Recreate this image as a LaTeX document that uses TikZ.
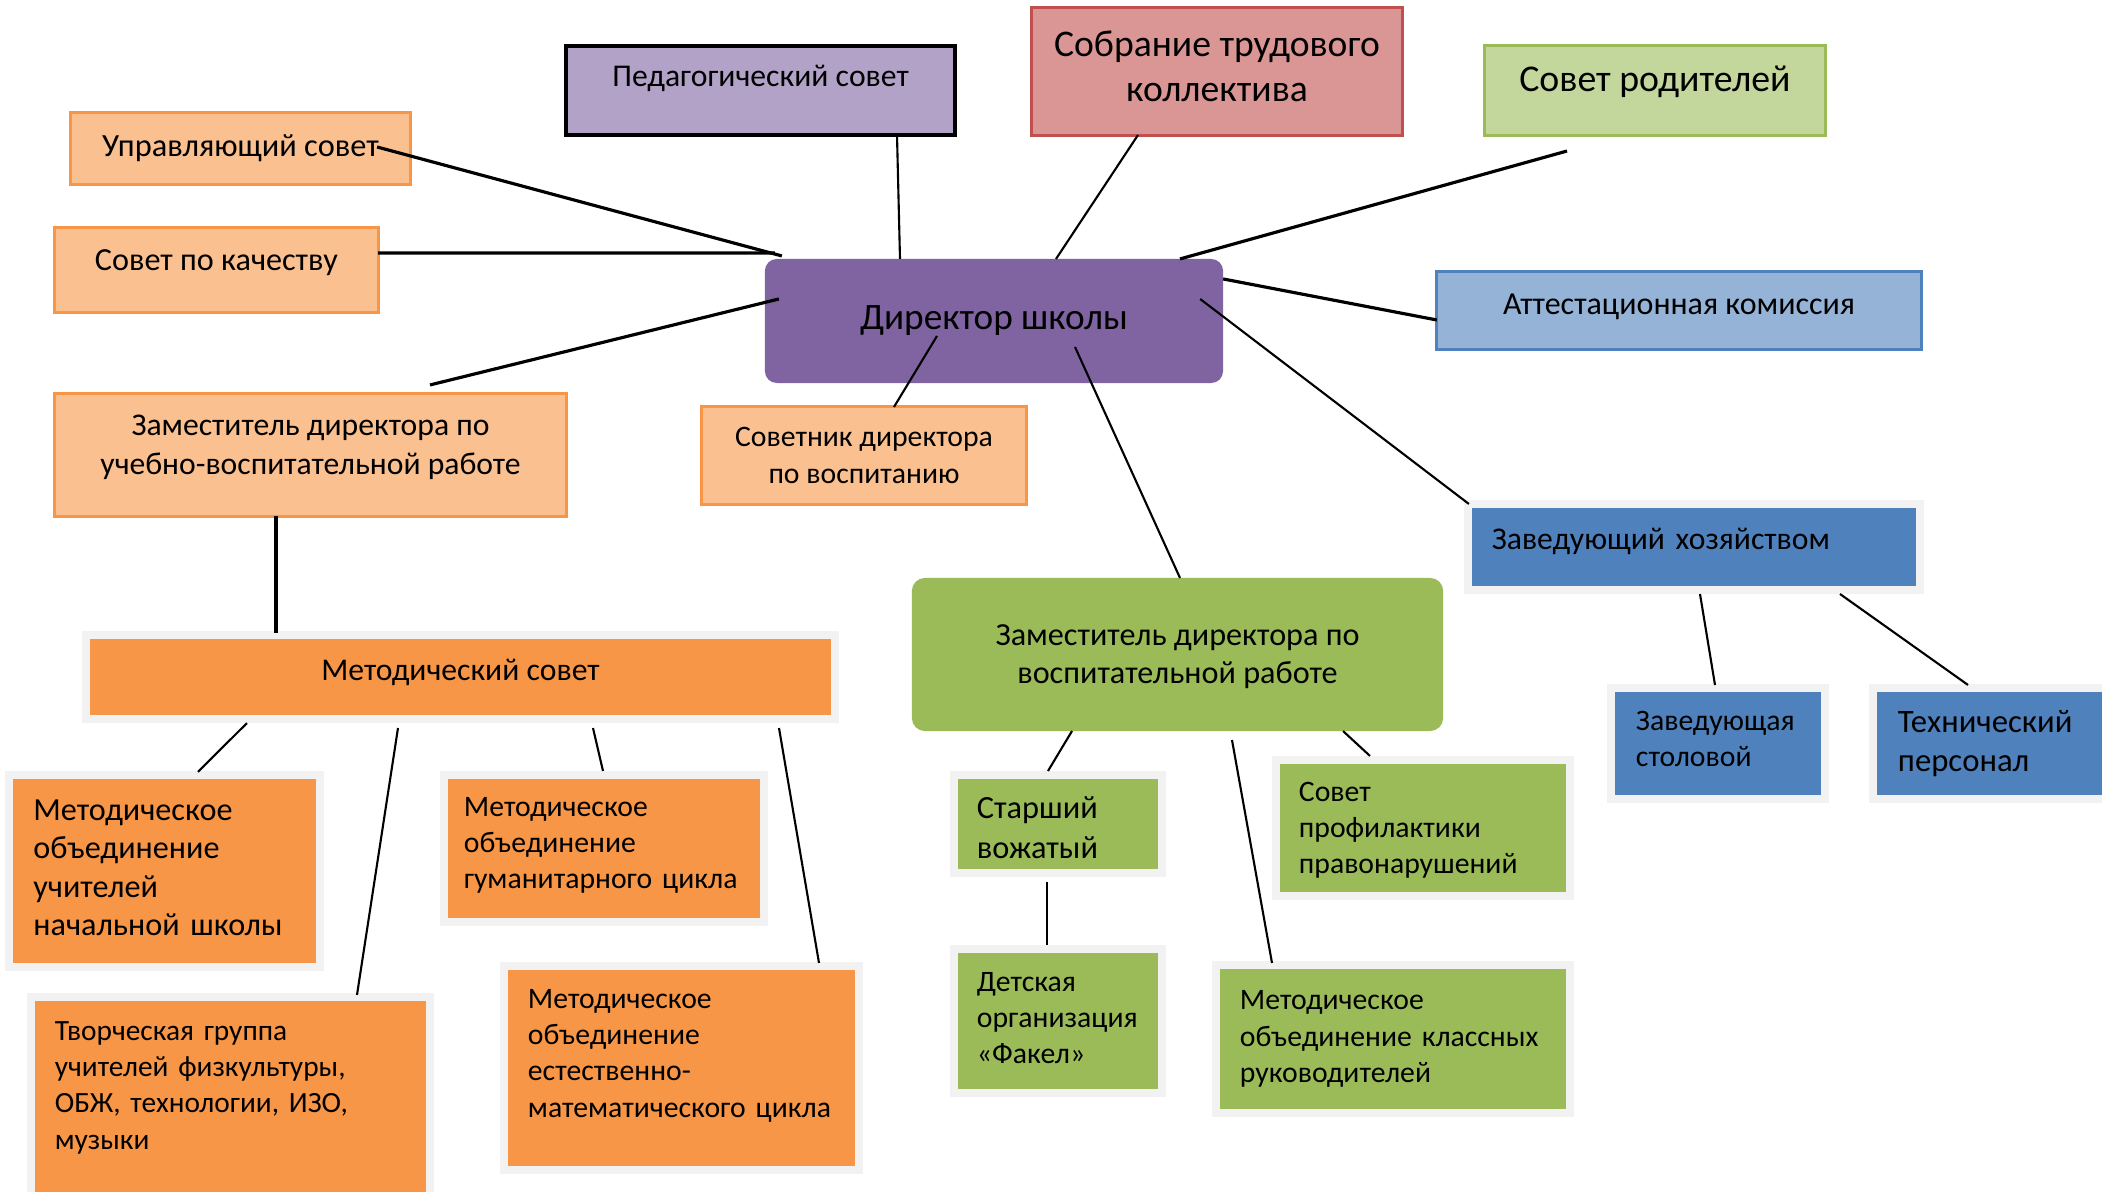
\documentclass[tikz,border=0pt]{standalone}
\usepackage{fontspec}
\setmainfont{Carlito}
\usepackage{xcolor}
\definecolor{orL}{HTML}{FAC090}
\definecolor{orD}{HTML}{F79646}
\definecolor{vio}{HTML}{8064A2}
\definecolor{lav}{HTML}{B2A2C7}
\definecolor{rosL}{HTML}{D99694}
\definecolor{rosD}{HTML}{C0504D}
\definecolor{grL}{HTML}{C3D69B}
\definecolor{grD}{HTML}{9BBB59}
\definecolor{blL}{HTML}{95B3D7}
\definecolor{blD}{HTML}{4F81BD}
\definecolor{frm}{HTML}{F2F2F2}
\tikzstyle{box}=[rectangle, inner sep=0pt, outer sep=0pt, align=center, font=\fontsize{9}{10.3}\selectfont]
\tikzstyle{small}=[font=\fontsize{8.45}{10.3}\selectfont]
\tikzstyle{lite}=[box, fill=orL, draw=orD, line width=0.03cm]
\tikzstyle{framed}=[box, draw=frm, line width=0.08cm, align=left]
\tikzstyle{lnk}=[line width=0.6pt]
\tikzstyle{lnkb}=[line width=0.9pt]

\begin{document}
\begin{tikzpicture}[x=0.01cm, y=-0.01cm]
\fill[white] (0,0) rectangle (2102,1192);
\useasboundingbox (0,0) rectangle (2102,1192);

\node[lite, minimum width=3.39cm, minimum height=0.71cm, font=\fontsize{9.2}{10.3}\selectfont] (upr) at (240.5,148.5) {Управляющий совет};
\node[lite, minimum width=3.23cm, minimum height=0.84cm, text depth=0.19cm, font=\fontsize{9.15}{10.3}\selectfont] (kach) at (216.5,270) {Совет по качеству};
\node[box, fill=lav, draw=black, line width=0.035cm, minimum width=3.89cm, minimum height=0.89cm, text depth=0.29cm] (ped) at (760.5,90.5) {Педагогический совет};
\node[box, fill=rosL, draw=rosD, line width=0.03cm, minimum width=3.7cm, minimum height=1.27cm, text depth=0.11cm, font=\fontsize{10.7}{12.9}\selectfont] (sobr) at (1217,71.5) {Собрание трудового\\коллектива};
\node[box, fill=grL, draw=grD, line width=0.03cm, minimum width=3.4cm, minimum height=0.89cm, text depth=0.23cm, font=\fontsize{10.75}{13}\selectfont] (rod) at (1655,90.5) {Совет родителей};
\node[box, fill=vio, rounded corners=0.12cm, minimum width=4.58cm, minimum height=1.24cm, font=\fontsize{10.6}{13}\selectfont] (dir) at (994,321) {Директор школы};
\node[box, fill=blL, draw=blD, line width=0.03cm, minimum width=4.84cm, minimum height=0.77cm, text depth=0.13cm, font=\fontsize{9.1}{10.3}\selectfont] (att) at (1679,310.5) {Аттестационная комиссия};
\node[lite, minimum width=5.11cm, minimum height=1.22cm, text depth=0.2cm, font=\fontsize{9}{11.1}\selectfont] (zuvr) at (310.5,455) {Заместитель директора по\\учебно-воспитательной работе};
\node[lite, small, minimum width=3.24cm, minimum height=0.97cm] (sovd) at (864,455.5) {Советник директора\\по воспитанию};
\node[box, fill=grD, rounded corners=0.13cm, minimum width=5.31cm, minimum height=1.53cm, text depth=0.01cm, font=\fontsize{9.15}{10.6}\selectfont] (zvr) at (1177.5,654.5) {Заместитель директора по\\воспитательной работе};
\node[framed, fill=blD, minimum width=4.52cm, minimum height=0.86cm, text width=4.04cm, inner xsep=0.24cm, text depth=0.17cm] (zhoz) at (1694,547) {Заведующий хозяйством};

\node[framed, align=center, fill=orD, minimum width=7.49cm, minimum height=0.84cm, text depth=0.15cm] (msov) at (460.5,677) {Методический совет};
\node[framed, fill=orD, minimum width=3.11cm, minimum height=1.92cm, text width=2.62cm, inner xsep=0.245cm, text depth=1.22cm, font=\fontsize{9.15}{10.95}\selectfont] (mnach) at (164.5,871) {Методическое\\объединение\\учителей\\начальной школы};
\node[framed, small, fill=orD, minimum width=3.2cm, minimum height=1.47cm, text width=2.8cm, inner xsep=0.2cm, text depth=0.84cm] (mgum) at (604,848.5) {Методическое\\объединение\\гуманитарного цикла};
\node[framed, fill=orD, minimum width=3.99cm, minimum height=2.23cm, text width=3.51cm, inner xsep=0.24cm, text depth=1.55cm, font=\fontsize{8.35}{10.3}\selectfont] (tvor) at (230.5,1108.5) {Творческая группа\\учителей физкультуры,\\ОБЖ, технологии, ИЗО,\\музыки};
\node[framed, small, fill=orD, minimum width=3.55cm, minimum height=2.04cm, text width=3.07cm, inner xsep=0.24cm, text depth=1.38cm] (estm) at (681.5,1068) {Методическое\\объединение\\естественно-\\математического цикла};

\node[framed, fill=grD, minimum width=2.08cm, minimum height=0.98cm, text width=1.62cm, inner xsep=0.23cm, text depth=0.32cm, font=\fontsize{9.2}{11.4}\selectfont] (star) at (1058,824) {Старший\\вожатый};
\node[framed, small, fill=grD, minimum width=2.08cm, minimum height=1.44cm, text width=1.62cm, inner xsep=0.23cm, text depth=0.78cm] (det) at (1058,1021) {Детская\\организация\\«Факел»};
\node[framed, small, fill=grD, minimum width=2.94cm, minimum height=1.36cm, text width=2.48cm, inner xsep=0.23cm, text depth=0.73cm] (prof) at (1423,828) {Совет\\профилактики\\правонарушений};
\node[framed, small, fill=grD, minimum width=3.54cm, minimum height=1.48cm, text width=3.06cm, inner xsep=0.24cm] (mkl) at (1393,1039) {Методическое\\объединение классных\\руководителей};

\node[framed, small, fill=blD, minimum width=2.14cm, minimum height=1.11cm, text width=1.64cm, inner xsep=0.25cm, text depth=0.45cm] (zst) at (1718,743.5) {Заведующая\\столовой};
\node[framed, fill=blD, minimum width=2.34cm, minimum height=1.11cm, text width=1.84cm, inner xsep=0.25cm, font=\fontsize{9.3}{11.1}\selectfont] (tech) at (1990,743.5) {Технический\\персонал};

\draw[lnkb] ([shift={(-33,-1.5)}]upr.east) -- ([shift={(17,-3)}]dir.north west);
\draw[lnkb] ([shift={(0,-17)}]kach.east) -- ([shift={(10,-6)}]dir.north west);
\draw[lnkb] ([shift={(119.5,-9)}]zuvr.north) -- ([shift={(14,-22)}]dir.west);
\draw[lnk] ([shift={(136.5,0)}]ped.south) -- ([shift={(-94,0)}]dir.north);
\draw[lnk] ([shift={(-79,0)}]sobr.south) -- ([shift={(62,0)}]dir.north);
\draw[lnkb] ([shift={(-88,16)}]rod.south) -- ([shift={(186,0)}]dir.north);
\draw[lnkb] ([shift={(0,20)}]dir.north east) -- ([shift={(0,9.5)}]att.west);
\draw[lnk] ([shift={(-23,-22)}]dir.east) -- ([shift={(1,0)}]zhoz.north west);
\draw[lnk] ([shift={(-57,15)}]dir.center) -- ([shift={(30,0)}]sovd.north);
\draw[lnk] ([shift={(81,26)}]dir.center) -- ([shift={(2.5,0)}]zvr.north);

\draw[lnkb] ([shift={(-34.5,0)}]zuvr.south) -- ([shift={(-184.5,-2)}]msov.north);
\draw[lnk] ([shift={(-213.5,4)}]msov.south) -- ([shift={(33.5,-3)}]mnach.north);
\draw[lnk] ([shift={(-62.5,9)}]msov.south) -- ([shift={(126.5,-2)}]tvor.north);
\draw[lnk] ([shift={(132.5,9)}]msov.south) -- ([shift={(-1,-4)}]mgum.north);
\draw[lnk] ([shift={(318.5,9)}]msov.south) -- ([shift={(137.5,-3)}]estm.north);

\draw[lnk] ([shift={(-105.5,0)}]zvr.south) -- ([shift={(-10,-4)}]star.north);
\draw[lnk] ([shift={(54.5,9)}]zvr.south) -- ([shift={(-121,-2)}]mkl.north);
\draw[lnk] ([shift={(165.5,0)}]zvr.south) -- ([shift={(-53,-4)}]prof.north);
\draw[lnk] ([shift={(-11,9)}]star.south) -- ([shift={(-11,-4)}]det.north);
\draw[lnk] ([shift={(6,4)}]zhoz.south) -- ([shift={(-3,-3)}]zst.north);
\draw[lnk] ([shift={(146,4)}]zhoz.south) -- ([shift={(-22,-3)}]tech.north);
\end{tikzpicture}
\end{document}
